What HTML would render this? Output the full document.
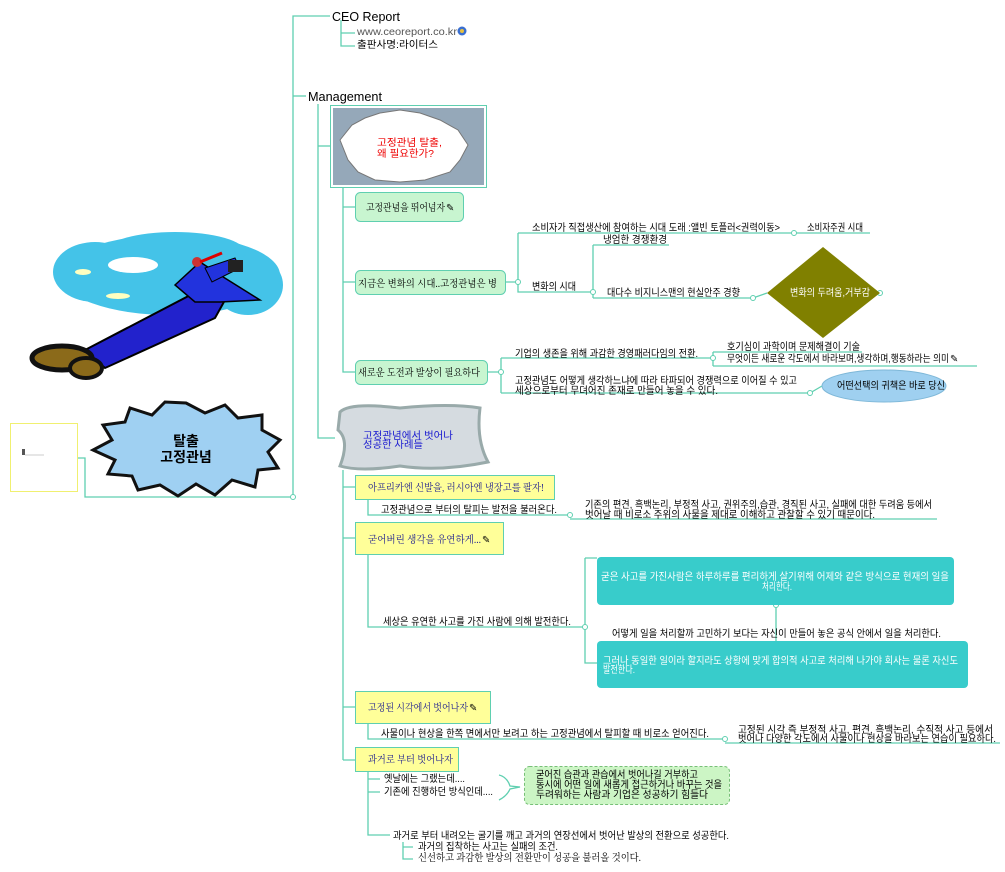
<!DOCTYPE html>
<html><head><meta charset="utf-8"><style>
html,body{margin:0;padding:0;background:#fff;width:1005px;height:872px;overflow:hidden}
svg{display:block}
text{font-family:"Liberation Sans","Noto Sans CJK KR",sans-serif;font-size:10px;fill:#000}
.s{font-family:"Liberation Serif","Noto Serif CJK SC",serif;font-size:10px}
</style></head><body>
<svg width="1005" height="872" viewBox="0 0 1005 872" xmlns="http://www.w3.org/2000/svg">
<g fill="none" stroke="#5fcfb0" stroke-width="1.3">
<path d="M78 458H85V497H293V16H330"/>
<path d="M293 96H306"/>
<path d="M341 20V46H355M341 33H355"/>
<path d="M318 104V438H335"/>
<path d="M318 146H330"/>
<path d="M343 188V372H355M343 207H355M343 282H355"/>
<path d="M505 282H518M518 233V292H593M518 233H794M794 233H870"/>
<path d="M593 245V298M593 245H669M593 298H753L767 293"/>
<path d="M488 372H501M501 358V393M501 358H713M713 352V366M713 352H862M713 366H977M501 393H810L822 386"/>
<path d="M343 470V760M343 487H355M343 538H355M343 707H355M343 760H355"/>
<path d="M368 499V515H570M570 519H937"/>
<path d="M368 554V627H585M585 558V663H597M585 558H597M776 605V641"/>
<path d="M368 723V739H725M725 743H1000"/>
<path d="M368 772V835H390M368 779H380M368 792H380"/>
<path d="M403 842V859H413M403 847H413"/>
<path d="M499 775Q507 777 510 786L520 787L510 789Q507 796 499 800"/>
</g>
<g fill="#fff" stroke="#5fcfb0" stroke-width="1">
<circle cx="293" cy="497" r="2.5"/><circle cx="518" cy="282" r="2.5"/><circle cx="593" cy="292" r="2.5"/><circle cx="794" cy="233" r="2.5"/><circle cx="753" cy="298" r="2.5"/><circle cx="880" cy="293" r="2.5"/><circle cx="501" cy="372" r="2.5"/><circle cx="713" cy="358" r="2.5"/><circle cx="810" cy="393" r="2.5"/><circle cx="570" cy="515" r="2.5"/><circle cx="585" cy="627" r="2.5"/><circle cx="776" cy="605" r="2.5"/><circle cx="725" cy="739" r="2.5"/>
</g>

<!-- left picture -->
<g>
<ellipse cx="170" cy="275" rx="110" ry="40" fill="#44c3e8"/>
<ellipse cx="95" cy="272" rx="42" ry="30" fill="#44c3e8"/>
<ellipse cx="248" cy="285" rx="35" ry="30" fill="#44c3e8"/>
<ellipse cx="175" cy="252" rx="70" ry="20" fill="#44c3e8"/>
<ellipse cx="133" cy="265" rx="25" ry="8" fill="#fff"/>
<ellipse cx="83" cy="272" rx="8" ry="3" fill="#ffffc0"/>
<ellipse cx="118" cy="296" rx="12" ry="3" fill="#ffffc0"/>
<path d="M85 350L200 290L225 300L215 318L105 368Z" fill="#2222cc" stroke="#000" stroke-width="2"/>
<path d="M175 285L200 262L220 275L260 300L220 302L195 302Z" fill="#2233dd" stroke="#000" stroke-width="1.5"/>
<path d="M205 268L235 258L240 268L212 282Z" fill="#2233dd" stroke="#000"/>
<rect x="228" y="260" width="15" height="12" fill="#222"/>
<circle cx="197" cy="262" r="5" fill="#c33"/><path d="M200 262L222 253" stroke="#d00" stroke-width="3"/>
<ellipse cx="62" cy="358" rx="30" ry="12" fill="#8b6a1a" stroke="#111" stroke-width="5"/>
<ellipse cx="86" cy="368" rx="16" ry="10" fill="#8b6a1a" stroke="#111" stroke-width="4"/>
</g>
<rect x="10.5" y="423.5" width="67" height="68" fill="#fff" stroke="#f0f070" stroke-width="1"/>
<rect x="22" y="449" width="3" height="6" fill="#555"/><path d="M25 455H44" stroke="#ccc"/>
<polygon points="186,403 205,413 225,405 238,418 262,415 262,430 280,440 268,452 278,468 258,470 255,487 232,480 215,495 196,484 178,496 160,485 138,490 132,476 108,474 115,460 93,450 112,440 103,425 125,422 130,408 152,415 165,402" fill="#9fd0f2" stroke="#111" stroke-width="3"/>
<text x="186" y="446" text-anchor="middle" style="font-size:14px;font-weight:bold">탈출</text>
<text x="186" y="462" text-anchor="middle" style="font-size:14px;font-weight:bold">고정관념</text>

<text x="332" y="21" style="font-size:12.5px" textLength="68" lengthAdjust="spacingAndGlyphs">CEO Report</text>
<text x="357" y="35" style="fill:#555" textLength="100" lengthAdjust="spacingAndGlyphs">www.ceoreport.co.kr</text>
<circle cx="462" cy="31" r="4.5" fill="#3a6fd0"/><circle cx="462" cy="31" r="2" fill="#e8c040"/>
<text x="357" y="48" textLength="81" lengthAdjust="spacingAndGlyphs">출판사명:라이터스</text>
<text x="308" y="101" style="font-size:12.5px" textLength="74" lengthAdjust="spacingAndGlyphs">Management</text>

<rect x="330.5" y="105.5" width="156" height="82" fill="#fff" stroke="#5fcfb0"/>
<rect x="333" y="108" width="151" height="77" fill="#95a8b9"/>
<polygon points="340,140 352,125 365,118 380,113 400,110 420,113 440,120 458,130 468,145 460,160 450,172 425,180 400,182 375,180 358,172 348,160" fill="#fff" stroke="#777"/>
<text x="377" y="146" style="fill:#e00" textLength="65" lengthAdjust="spacingAndGlyphs">고정관념 탈출,</text>
<text x="377" y="157" style="fill:#e00" textLength="57" lengthAdjust="spacingAndGlyphs">왜 필요한가?</text>

<g fill="#c8f5d0" stroke="#5fcfb0">
<rect x="355.5" y="192.5" width="108" height="29" rx="5"/>
<rect x="355.5" y="270.5" width="150" height="24" rx="5"/>
<rect x="355.5" y="360.5" width="132" height="24" rx="5"/>
</g>
<text class="s" x="366" y="211" textLength="79" lengthAdjust="spacingAndGlyphs">고정관념을 뛰어넘자</text><text x="446" y="211">✎</text>
<text class="s" x="358" y="287" textLength="139" lengthAdjust="spacingAndGlyphs">지금은 변화의 시대..고정관념은 병</text>
<text class="s" x="358" y="376" textLength="122" lengthAdjust="spacingAndGlyphs">새로운 도전과 발상이 필요하다</text>

<text x="532" y="231" textLength="248" lengthAdjust="spacingAndGlyphs">소비자가 직접생산에 참여하는 시대 도래 :앨빈 토플러&lt;권력이동&gt;</text>
<text x="807" y="231" textLength="56" lengthAdjust="spacingAndGlyphs">소비자주권 시대</text>
<text x="532" y="290" textLength="44" lengthAdjust="spacingAndGlyphs">변화의 시대</text>
<text x="603" y="243" textLength="64" lengthAdjust="spacingAndGlyphs">냉엄한 경쟁환경</text>
<text x="607" y="296" textLength="133" lengthAdjust="spacingAndGlyphs">대다수 비지니스맨의 현실안주 경향</text>
<polygon points="823,247 880,293 823,338 767,293" fill="#808000"/>
<text x="790" y="296" style="fill:#fff" textLength="80" lengthAdjust="spacingAndGlyphs">변화의 두려움,거부감</text>

<text x="515" y="357" textLength="183" lengthAdjust="spacingAndGlyphs">기업의 생존을 위해 과감한 경영패러다임의 전환.</text>
<text x="727" y="350" textLength="133" lengthAdjust="spacingAndGlyphs">호기심이 과학이며 문제해결이 기술</text>
<text x="727" y="362" textLength="222" lengthAdjust="spacingAndGlyphs">무엇이든 새로운 각도에서 바라보며,생각하며,행동하라는 의미</text><text x="950" y="362">✎</text>
<text x="515" y="384" textLength="282" lengthAdjust="spacingAndGlyphs">고정관념도 어떻게 생각하느냐에 따라 타파되어 경쟁력으로 이어질 수 있고</text>
<text x="515" y="394" textLength="203" lengthAdjust="spacingAndGlyphs">세상으로부터 무뎌어진 존재로 만들어 놓을 수 있다.</text>
<ellipse cx="884" cy="386" rx="62" ry="16" fill="#9fd0f0" stroke="#7fb8d8"/>
<text x="837" y="389" textLength="108" lengthAdjust="spacingAndGlyphs">어떤선택의 귀책은 바로 당신</text>

<path d="M340 412Q350 402 400 408Q450 403 480 408Q476 440 488 462Q440 472 400 466Q360 472 340 466Q350 440 338 430Z" fill="#d5dbe0" stroke="#9aa" stroke-width="3"/>
<text x="363" y="439" style="fill:#1a1ad0" textLength="90" lengthAdjust="spacingAndGlyphs">고정관념에서 벗어나</text>
<text x="363" y="448" style="fill:#1a1ad0" textLength="60" lengthAdjust="spacingAndGlyphs">성공한 사례들</text>

<g fill="#ffff99" stroke="#5fcfb0">
<rect x="355.5" y="475.5" width="199" height="24"/>
<rect x="355.5" y="522.5" width="148" height="32"/>
<rect x="355.5" y="691.5" width="135" height="32"/>
<rect x="355.5" y="747.5" width="103" height="24"/>
</g>
<text class="s" x="368" y="491" style="fill:#1a1a90" textLength="176" lengthAdjust="spacingAndGlyphs">아프리카엔 신발을, 러시아엔 냉장고를 팔자!</text>
<text class="s" x="368" y="543" style="fill:#1a1a90" textLength="113" lengthAdjust="spacingAndGlyphs">굳어버린 생각을 유연하게...</text><text x="482" y="543">✎</text>
<text class="s" x="368" y="711" style="fill:#1a1a90" textLength="100" lengthAdjust="spacingAndGlyphs">고정된 시각에서 벗어나자</text><text x="469" y="711">✎</text>
<text class="s" x="368" y="763" style="fill:#1a1a90" textLength="85" lengthAdjust="spacingAndGlyphs">과거로 부터 벗어나자</text>

<text x="381" y="513" textLength="176" lengthAdjust="spacingAndGlyphs">고정관념으로 부터의 탈피는 발전을 불러온다.</text>
<text x="585" y="508" textLength="347" lengthAdjust="spacingAndGlyphs">기존의 편견, 흑백논리, 부정적 사고, 권위주의,습관, 경직된 사고, 실패에 대한 두려움 등에서</text>
<text x="585" y="518" textLength="290" lengthAdjust="spacingAndGlyphs">벗어날 때 비로소 주위의 사물을 제대로 이해하고 관찰할 수 있기 때문이다.</text>

<text x="383" y="625" textLength="188" lengthAdjust="spacingAndGlyphs">세상은 유연한 사고를 가진 사람에 의해 발전한다.</text>
<rect x="597" y="557" width="357" height="48" rx="4" fill="#38cccb"/>
<text x="601" y="580" style="fill:#fff" textLength="348" lengthAdjust="spacingAndGlyphs">굳은 사고를 가진사람은 하루하루를 편리하게 살기위해 어제와 같은 방식으로 현재의 일을</text>
<text x="762" y="590" style="fill:#fff" textLength="30" lengthAdjust="spacingAndGlyphs">처리한다.</text>
<text x="612" y="637" textLength="329" lengthAdjust="spacingAndGlyphs">어떻게 일을 처리할까 고민하기 보다는 자신이 만들어 놓은 공식 안에서 일을 처리한다.</text>
<rect x="597" y="641" width="371" height="47" rx="4" fill="#38cccb"/>
<text x="603" y="664" style="fill:#fff" textLength="355" lengthAdjust="spacingAndGlyphs">그러나 동일한 일이라 할지라도 상황에 맞게 합의적 사고로 처리해 나가야 회사는 물론 자신도</text>
<text x="603" y="673" style="fill:#fff" textLength="32" lengthAdjust="spacingAndGlyphs">발전한다.</text>

<text x="381" y="737" textLength="328" lengthAdjust="spacingAndGlyphs">사물이나 현상을 한쪽 면에서만 보려고 하는 고정관념에서 탈피할 때 비로소 얻어진다.</text>
<text x="738" y="733" textLength="255" lengthAdjust="spacingAndGlyphs">고정된 시각 즉 부정적 사고, 편견, 흑백논리, 수직적 사고 등에서</text>
<text x="738" y="742" textLength="258" lengthAdjust="spacingAndGlyphs">벗어나 다양한 각도에서 사물이나 현상을 바라보는 연습이 필요하다.</text>

<text x="384" y="782" textLength="81" lengthAdjust="spacingAndGlyphs">옛날에는 그랬는데....</text>
<text x="384" y="795" textLength="109" lengthAdjust="spacingAndGlyphs">기존에 진행하던 방식인데....</text>
<rect x="524.5" y="766.5" width="205" height="38" rx="5" fill="#ccf5c5" stroke="#77c077" stroke-dasharray="3,2"/>
<text x="536" y="778" textLength="162" lengthAdjust="spacingAndGlyphs">굳어진 습관과 관습에서 벗어나길 거부하고</text>
<text x="536" y="788" textLength="186" lengthAdjust="spacingAndGlyphs">동시에 어떤 일에 새롭게 접근하거나 바꾸는 것을</text>
<text x="536" y="798" textLength="172" lengthAdjust="spacingAndGlyphs">두려워하는 사람과 기업은 성공하기 힘들다</text>

<text x="393" y="839" textLength="336" lengthAdjust="spacingAndGlyphs">과거로 부터 내려오는 굴기를 깨고 과거의 연장선에서 벗어난 발상의 전환으로 성공한다.</text>
<text x="418" y="850" textLength="140" lengthAdjust="spacingAndGlyphs">과거의 집착하는 사고는 실패의 조건.</text>
<text class="s" x="418" y="861" textLength="223" lengthAdjust="spacingAndGlyphs">신선하고 과감한 발상의 전환만이 성공을 불러올 것이다.</text>
</svg>
</body></html>
